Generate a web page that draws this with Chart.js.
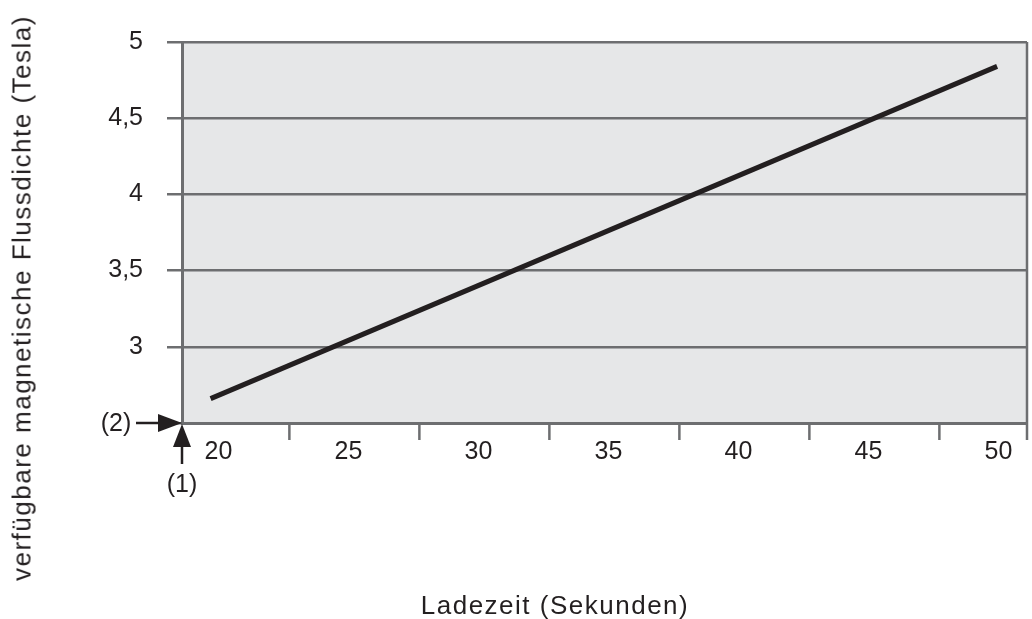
<!DOCTYPE html>
<html>
<head>
<meta charset="utf-8">
<script src="https://cdn.jsdelivr.net/npm/chart.js@4.4.1/dist/chart.umd.min.js"></script>
<style>
    body { margin: 0; background: #ffffff; }
    #wrap { position: relative; width: 1032px; height: 619px; }
    .axisTitle {
        position: absolute;
        font-family: 'Liberation Sans', Arial, sans-serif;
        font-size: 26px;
        letter-spacing: 1.5px;
        color: #231f20;
        white-space: nowrap;
    }
    #yTitle {
        left: 22px;
        top: 298px;
        transform: translate(-50%, -50%) rotate(-90deg);
    }
    #xTitle {
        left: 555px;
        top: 605px;
        transform: translate(-50%, -50%);
    }
</style>
</head>
<body>
<div id="wrap">
    <canvas id="myChart"></canvas>
    <div class="axisTitle" id="yTitle">verfügbare magnetische Flussdichte (Tesla)</div>
    <div class="axisTitle" id="xTitle">Ladezeit (Sekunden)</div>
</div>
<script>
// Werte
const ladezeit = [19.7, 49.95];            // Sekunden (Anfang/Ende der Linie)
const flussdichte = [2.66, 4.84];          // Tesla
const xTickValues = [20, 25, 30, 35, 40, 45, 50];
const yTickValues = [2.5, 3, 3.5, 4, 4.5, 5];
const markerText = ['(1)', '(2)'];

const gridGray = '#6d6e70';
const textColor = '#231f20';
const tickFont = { family: "'Liberation Sans', Arial, sans-serif", size: 25 };
const tickShift = 2.73; // Teilstriche der x-Achse liegen zwischen den Beschriftungen

const points = ladezeit.map((x, i) => ({ x: x, y: flussdichte[i] }));

// Hintergrund, Rahmen, Teilstriche und Pfeile (1)/(2)
const decoPlugin = {
    id: 'deco',
    beforeDraw: (chart) => {
        const { ctx, chartArea: a } = chart;
        ctx.save();
        ctx.fillStyle = '#e6e7e8';
        ctx.fillRect(a.left, a.top, a.right - a.left, a.bottom - a.top);
        ctx.restore();
    },
    afterDraw: (chart) => {
        const { ctx, chartArea: a } = chart;
        const xs = chart.scales.x;
        ctx.save();
        ctx.strokeStyle = gridGray;
        ctx.lineWidth = 2.5;
        // rechter Rahmen mit Verlängerung nach unten
        ctx.beginPath();
        ctx.moveTo(a.right, a.top);
        ctx.lineTo(a.right, a.bottom + 17);
        ctx.stroke();
        // Teilstriche unten
        xTickValues.forEach((v) => {
            const px = xs.getPixelForValue(v + tickShift);
            if (px < a.right - 2) {
                ctx.beginPath();
                ctx.moveTo(px, a.bottom);
                ctx.lineTo(px, a.bottom + 17);
                ctx.stroke();
            }
        });

        // Pfeile
        ctx.strokeStyle = textColor;
        ctx.fillStyle = textColor;
        ctx.lineWidth = 2.5;
        const cx = a.left, cy = a.bottom;
        // (2) von links
        ctx.beginPath();
        ctx.moveTo(cx - 46, cy);
        ctx.lineTo(cx - 20, cy);
        ctx.stroke();
        ctx.beginPath();
        ctx.moveTo(cx, cy);
        ctx.lineTo(cx - 24, cy - 9);
        ctx.lineTo(cx - 24, cy + 9);
        ctx.closePath();
        ctx.fill();
        // (1) von unten
        ctx.beginPath();
        ctx.moveTo(cx, cy + 41);
        ctx.lineTo(cx, cy + 18);
        ctx.stroke();
        ctx.beginPath();
        ctx.moveTo(cx, cy + 1);
        ctx.lineTo(cx - 9, cy + 24);
        ctx.lineTo(cx + 9, cy + 24);
        ctx.closePath();
        ctx.fill();

        ctx.font = tickFont.size + 'px ' + tickFont.family;
        ctx.textAlign = 'center';
        ctx.textBaseline = 'middle';
        ctx.fillText(markerText[0], cx, cy + 62);
        ctx.fillText(markerText[1], cx - 66, cy + 1);
        ctx.restore();
    }
};

new Chart(document.getElementById('myChart').getContext('2d'), {
    type: 'scatter',
    data: {
        datasets: [
            {
                data: points,
                showLine: true,
                borderColor: textColor,
                borderWidth: 5,
                borderCapStyle: 'butt',
                pointRadius: 0,
                pointHoverRadius: 0,
                tension: 0,
            }
        ],
    },
    options: {
        responsive: true,
        maintainAspectRatio: false,
        animation: false,
        events: [],
        layout: { padding: { top: 42, right: 5, left: 0, bottom: 0 } },
        plugins: {
            legend: { display: false },
            tooltip: { enabled: false },
        },
        scales: {
            x: {
                type: 'linear',
                min: 18.6,
                max: 51.1,
                afterFit: (scale) => { scale.height = 196; },
                afterBuildTicks: (scale) => {
                    scale.ticks = xTickValues.map((v) => ({ value: v }));
                },
                grid: { display: false, drawTicks: false },
                border: { display: true, color: gridGray, width: 3 },
                ticks: {
                    color: textColor,
                    font: tickFont,
                    padding: 14,
                    maxRotation: 0,
                    autoSkip: false,
                    callback: (v) => String(v),
                },
            },
            y: {
                min: 2.5,
                max: 5,
                afterFit: (scale) => { scale.width = 182; },
                afterBuildTicks: (scale) => {
                    scale.ticks = yTickValues.map((v) => ({ value: v }));
                },
                grid: {
                    color: gridGray,
                    lineWidth: 2.5,
                    tickLength: 15,
                    drawTicks: true,
                },
                border: { display: true, color: gridGray, width: 3 },
                ticks: {
                    color: textColor,
                    font: tickFont,
                    padding: 24,
                    autoSkip: false,
                    callback: (v) => (v === 2.5 ? '' : String(v).replace('.', ',')),
                },
            },
        },
    },
    plugins: [decoPlugin],
});
</script>
</body>
</html>
